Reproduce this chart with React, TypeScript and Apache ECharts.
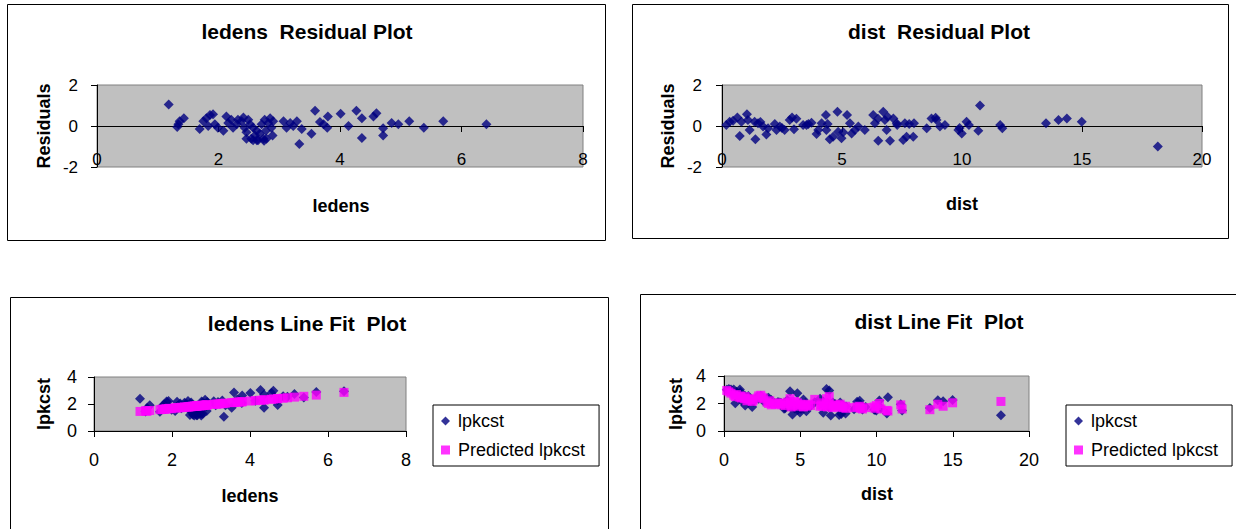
import React, { useEffect, useRef } from "react";
import * as echarts from "echarts";

// ---------- data ----------
// ledens residual plot / ledens line fit plot (same observations)
const ledensX = [1.18,1.34,1.32,1.36,1.43,1.69,1.75,1.80,1.86,1.91,1.83,1.94,1.99,2.08,2.13,2.16,2.21,2.24,2.30,2.32,2.38,2.41,2.43,2.46,2.49,2.52,2.54,2.57,2.60,2.63,2.65,2.68,2.71,2.74,2.76,2.78,2.82,2.85,2.87,2.89,2.90,2.75,2.57,2.46,2.63,2.79,3.07,3.12,3.18,3.23,3.29,3.33,3.37,3.53,3.59,3.67,3.73,3.80,3.79,4.01,4.14,4.27,4.36,4.36,4.55,4.60,4.71,4.71,4.85,4.96,5.14,5.38,5.70,6.41];
const ledensResiduals = [1.05,0.08,-0.05,0.23,0.38,-0.15,0.23,0.38,0.54,0.57,0,0.08,-0.08,-0.23,0.46,0.15,0.31,-0.08,0.08,0.31,0.23,0.42,-0.08,-0.31,0.31,0.08,-0.62,-0.08,-0.46,-0.23,-0.69,-0.38,0.08,-0.62,0.31,-0.23,0.15,0.38,-0.08,-0.46,0.23,-0.72,-0.69,-0.62,-0.69,-0.62,0.23,-0.08,0.15,0,0.23,-0.88,-0.15,-0.38,0.74,0.2,0.08,0.46,-0.08,0.6,0,0.75,0.38,-0.58,0.46,0.62,-0.11,-0.46,0.15,0.08,0.23,-0.08,0.23,0.08];
const ledensLpkcst = [2.38,1.56,1.45,1.70,1.90,1.43,1.85,1.98,2.18,2.23,1.63,1.76,1.57,1.49,2.16,1.89,2.03,1.68,1.83,2.09,2.00,2.22,1.70,1.51,2.11,1.92,1.20,1.77,1.37,1.64,1.16,1.50,1.94,1.28,2.19,1.68,2.04,2.31,1.83,1.48,2.15,1.15,1.14,1.18,1.16,1.27,2.20,1.91,2.15,2.02,2.26,1.05,1.91,1.72,2.85,2.34,2.23,2.63,2.08,2.82,2.25,3.03,2.69,1.72,2.81,2.99,2.29,1.93,2.58,2.54,2.74,2.49,2.89,2.94];
const ledensPredicted = [1.45,1.48,1.50,1.47,1.52,1.58,1.62,1.60,1.64,1.66,1.63,1.68,1.65,1.72,1.70,1.74,1.72,1.76,1.75,1.78,1.77,1.80,1.78,1.82,1.80,1.84,1.82,1.85,1.83,1.87,1.85,1.88,1.86,1.90,1.88,1.91,1.89,1.93,1.91,1.94,1.92,1.87,1.83,1.80,1.85,1.89,1.97,1.99,2.00,2.02,2.03,2.05,2.06,2.10,2.11,2.14,2.15,2.17,2.16,2.22,2.25,2.28,2.31,2.30,2.35,2.37,2.40,2.39,2.43,2.46,2.51,2.57,2.66,2.86];

// dist residual plot / dist line fit plot
const distX = [0.18,0.32,0.46,0.64,0.74,0.81,1.04,1.08,1.15,1.36,1.39,1.50,1.71,1.85,1.92,2.20,2.27,2.41,2.61,2.82,2.92,3.00,3.38,3.52,3.73,3.94,4.01,4.15,4.33,4.35,4.49,4.63,4.81,4.84,4.98,5.21,5.33,5.40,5.54,5.68,5.95,6.30,6.37,6.51,6.72,6.79,6.86,7.00,7.14,7.28,7.55,7.69,7.62,7.97,8.00,8.53,8.73,8.94,9.08,9.29,9.85,9.99,10.19,10.29,10.68,10.75,11.59,11.68,13.50,14.02,14.37,14.99,18.16,1.60,2.50,3.10,3.60,4.40,5.05,6.50,6.90,7.30,7.80,8.90,9.90];
const distResiduals = [0.05,0.21,0.26,0.42,-0.49,0.21,0.57,0.29,-0.2,0.21,-0.65,0.13,-0.03,-0.41,-0.11,0.1,-0.2,-0.03,-0.2,0.29,0.42,-0.16,0.05,0.05,0.16,-0.39,-0.2,0.13,0.54,-0.2,-0.65,-0.52,0.7,-0.28,-0.6,0.54,0.13,-0.36,-0.2,-0.03,-0.2,0.54,0.13,-0.72,0.7,0.29,-0.2,-0.72,0.37,0.13,-0.68,-0.52,0.13,-0.52,0.13,-0.11,0.37,0.29,-0.03,0.05,-0.2,-0.36,0.21,0.05,-0.23,1.0,0.05,-0.11,0.13,0.29,0.37,0.21,-1.0,0.2,-0.1,0.35,0.1,0.1,-0.3,0.35,0.45,0.05,0.1,0.4,-0.1];
const distLpkcst = [3.00,3.06,3.01,3.02,2.01,2.86,3.02,2.84,2.20,2.56,1.85,2.33,2.27,1.74,2.14,2.50,2.35,2.57,2.15,2.39,2.42,2.04,2.00,2.10,2.06,1.61,1.65,2.23,2.89,1.75,1.20,1.63,2.75,1.52,1.35,2.29,2.03,1.44,1.75,1.82,2.10,2.34,2.03,1.33,3.05,2.04,1.75,1.13,2.07,1.93,1.17,1.23,2.08,1.28,1.78,1.59,2.12,1.94,1.57,1.75,1.55,1.49,2.21,1.65,1.27,2.45,1.95,1.49,1.68,2.24,2.17,2.26,1.15,2.55,2.35,2.25,2.10,1.85,1.60,2.15,2.95,1.95,1.80,2.20,1.55];
const distPredicted = [2.95,2.85,2.75,2.60,2.50,2.65,2.45,2.55,2.40,2.35,2.50,2.20,2.30,2.15,2.25,2.40,2.55,2.60,2.35,2.10,2.00,2.20,1.95,2.05,1.90,2.00,1.85,2.10,2.35,1.95,1.85,2.15,2.05,1.80,1.95,1.75,1.90,1.80,1.95,1.85,2.30,1.80,1.90,2.05,2.35,1.75,1.95,1.85,1.70,1.80,1.85,1.75,1.95,1.80,1.65,1.70,1.75,1.65,1.60,1.70,1.75,1.85,2.00,1.60,1.50,1.45,1.90,1.60,1.55,1.95,1.80,2.05,2.15,2.35,2.45,1.90,2.00,1.75,1.90,1.80,2.50,1.90,1.70,1.80,1.65];

const seriesNames = ["lpkcst", "Predicted lpkcst"];
const residualTicks = { min: -2, max: 2, interval: 2 };
const fitTicks = { min: 0, max: 4, interval: 2 };
const ledensTicks = { min: 0, max: 8, interval: 2 };
const distTicks = { min: 0, max: 20, interval: 5 };

// ---------- styling ----------
const FONT = '"Liberation Sans", Arial, Helvetica, sans-serif';
const NAVY = "#000080";
const MAGENTA = "#FF00FF";

const pairs = (xs: number[], ys: number[]) => xs.map((x, i) => [x, ys[i]]);

// offset < 0 lifts the whole axis (line, ticks, labels) into the plot, so that
// the residual plots' horizontal axis sits on the zero line like in Excel.
function xAxis(gridIndex: number, ticks: any, margin: number, fontSize: number, offset = 0) {
  return {
    gridIndex,
    type: "value",
    min: ticks.min,
    max: ticks.max,
    interval: ticks.interval,
    offset,
    axisLine: { show: true, onZero: false, lineStyle: { color: "#000", width: 1 } },
    axisTick: { show: true, length: 6, lineStyle: { color: "#000" } },
    axisLabel: { margin, fontSize, color: "#000", fontFamily: FONT },
    splitLine: { show: false },
  };
}

function yAxis(gridIndex: number, ticks: any, margin: number, fontSize: number) {
  return {
    gridIndex,
    type: "value",
    min: ticks.min,
    max: ticks.max,
    interval: ticks.interval,
    axisLine: { show: true, onZero: false, lineStyle: { color: "#000", width: 1 } },
    axisTick: { show: true, length: 6, lineStyle: { color: "#000" } },
    axisLabel: { margin, fontSize, color: "#000", fontFamily: FONT },
    splitLine: { show: false },
  };
}

function grid(left: number, top: number, width: number, height: number) {
  return {
    left, top, width, height,
    show: true,
    backgroundColor: "#C0C0C0",
    borderColor: "#808080",
    borderWidth: 1,
    containLabel: false,
  };
}

function label(text: string, x: number, y: number, size: number, vertical = false) {
  return {
    type: "text",
    x, y,
    rotation: vertical ? Math.PI / 2 : 0,
    style: {
      text,
      fill: "#000",
      font: `bold ${size}px ${FONT}`,
      align: "center",
      verticalAlign: "middle",
      textAlign: "center",
      textVerticalAlign: "middle",
    },
  };
}

function frame(x: number, y: number, w: number, h: number) {
  return {
    type: "rect",
    shape: { x, y, width: w, height: h },
    style: { fill: "none", stroke: "#000", lineWidth: 1 },
    z: -10,
  };
}

function legend(left: number, top: number) {
  return {
    data: seriesNames,
    orient: "vertical",
    left, top,
    backgroundColor: "#fff",
    borderColor: "#000",
    borderWidth: 1,
    padding: [7, 14, 7, 8],
    itemGap: 11,
    itemWidth: 9,
    itemHeight: 9,
    selectedMode: false,
    textStyle: { fontSize: 18, color: "#000", fontFamily: FONT, padding: [0, 0, 0, 3] },
  };
}

export default function App() {
  const ref = useRef<HTMLDivElement>(null);

  useEffect(() => {
    if (!ref.current) return;
    const chart = echarts.init(ref.current, undefined, { renderer: "svg" });

    const option: any = {
      animation: false,
      backgroundColor: "#fff",
      grid: [
        grid(97, 85, 486, 82),
        grid(722, 85, 480, 82),
        grid(94, 377, 312, 54),
        grid(724, 376, 305, 55),
      ],
      xAxis: [
        xAxis(0, ledensTicks, 25, 17, -41),
        xAxis(1, distTicks, 25, 17, -41),
        xAxis(2, ledensTicks, 20, 18),
        xAxis(3, distTicks, 20, 18),
      ],
      yAxis: [
        yAxis(0, residualTicks, 19, 17),
        yAxis(1, residualTicks, 20, 17),
        yAxis(2, fitTicks, 17, 18),
        yAxis(3, fitTicks, 18, 18),
      ],
      legend: [legend(433, 405), legend(1066, 405)],
      series: [
        {
          name: "ledens Residuals",
          type: "scatter",
          xAxisIndex: 0, yAxisIndex: 0,
          symbol: "diamond", symbolSize: 10,
          itemStyle: { color: NAVY },
          data: pairs(ledensX, ledensResiduals),
        },
        {
          name: "dist Residuals",
          type: "scatter",
          xAxisIndex: 1, yAxisIndex: 1,
          symbol: "diamond", symbolSize: 10,
          itemStyle: { color: NAVY },
          data: pairs(distX, distResiduals),
        },
        {
          name: seriesNames[0],
          type: "scatter",
          xAxisIndex: 2, yAxisIndex: 2,
          symbol: "diamond", symbolSize: 10,
          itemStyle: { color: NAVY },
          data: pairs(ledensX, ledensLpkcst),
        },
        {
          name: seriesNames[1],
          type: "scatter",
          xAxisIndex: 2, yAxisIndex: 2,
          symbol: "rect", symbolSize: 9,
          itemStyle: { color: MAGENTA },
          data: pairs(ledensX, ledensPredicted),
        },
        {
          name: seriesNames[0],
          type: "scatter",
          xAxisIndex: 3, yAxisIndex: 3,
          symbol: "diamond", symbolSize: 10,
          itemStyle: { color: NAVY },
          data: pairs(distX, distLpkcst),
        },
        {
          name: seriesNames[1],
          type: "scatter",
          xAxisIndex: 3, yAxisIndex: 3,
          symbol: "rect", symbolSize: 9,
          itemStyle: { color: MAGENTA },
          data: pairs(distX, distPredicted),
        },
      ],
      graphic: [
        frame(7.5, 4.5, 598, 236),
        frame(632.5, 4.5, 596, 234),
        frame(10.5, 297.5, 598, 245),
        frame(640.5, 294.5, 610, 245),
        label("ledens  Residual Plot", 307, 31, 21),
        label("dist  Residual Plot", 939, 31, 21),
        label("ledens Line Fit  Plot", 307, 323, 21),
        label("dist Line Fit  Plot", 939, 321, 21),
        label("Residuals", 44, 126, 18, true),
        label("Residuals", 668, 126, 18, true),
        label("lpkcst", 44, 404, 18, true),
        label("lpkcst", 676, 404, 18, true),
        label("ledens", 341, 206, 18),
        label("dist", 962, 204, 18),
        label("ledens", 250, 496, 18),
        label("dist", 877, 494, 18),
      ],
    };

    chart.setOption(option);
    return () => chart.dispose();
  }, []);

  return (
    <div
      ref={ref}
      style={{ position: "fixed", left: 0, top: 0, width: 1236, height: 529, background: "#fff" }}
    />
  );
}
